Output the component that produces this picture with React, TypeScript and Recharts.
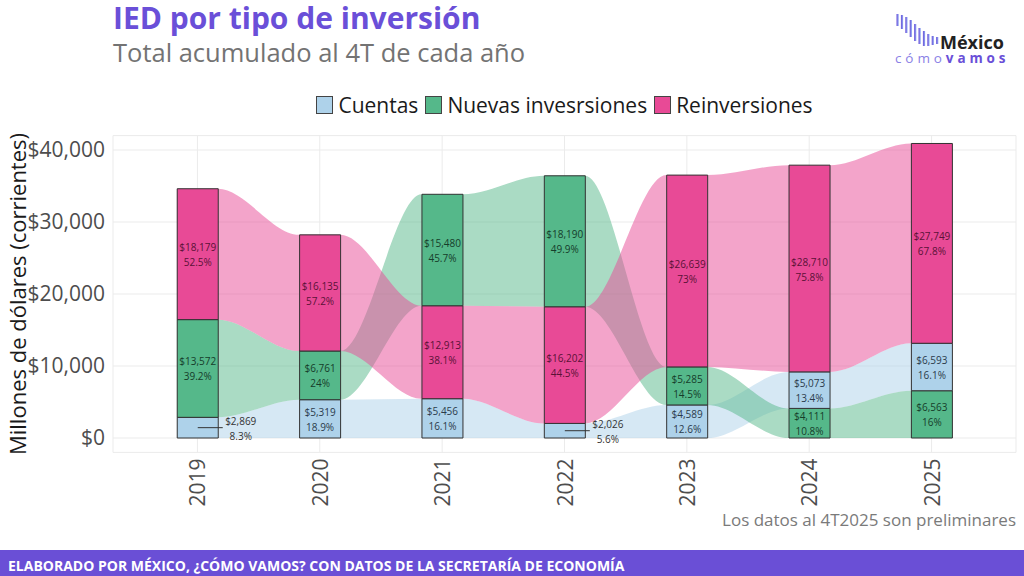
import React from 'react';
import { ComposedChart, Area, Bar, Cell, XAxis, YAxis, CartesianGrid, LabelList } from 'recharts';

// ---- data ----
const years = [2019, 2020, 2021, 2022, 2023, 2024, 2025];
const cuentas = [2869, 5319, 5456, 2026, 4589, 5073, 6593];
const nuevasInversiones = [13572, 6761, 15480, 18190, 5285, 4111, 6563];
const reinversiones = [18179, 16135, 12913, 16202, 26639, 28710, 27749];
const seriesNames = ['Cuentas', 'Nuevas invesrsiones', 'Reinversiones'];
const yTicks = [0, 10000, 20000, 30000, 40000];

// ---- styles / layout ----
const COLORS = ['#aed2ea', '#55b88a', '#e84a96'];
const LABEL_COLORS = ['#2b3b4a', '#163d2a', '#5a1236'];
const PURPLE = '#6a4fd8';
const HALF = 0.168; // half bar width in x units
const X_DOMAIN: [number, number] = [2018.31, 2025.69];
const FONT = '"Open Sans", "Noto Sans", sans-serif';

const seriesValues = [cuentas, nuevasInversiones, reinversiones];

type BarRow = {
  x: number;
  s0: number;
  s1: number;
  s2: number;
  order: number[];
  vals: number[];
  total: number;
  ranges: [number, number][];
};
type RibbonRow = { x: number; r0: [number, number]; r1: [number, number]; r2: [number, number] };

const barRows: BarRow[] = years.map((yr, i) => {
  const vals = seriesValues.map((s) => s[i]);
  const total = vals.reduce((a, b) => a + b, 0);
  const order = [0, 1, 2].sort((a, b) => vals[a] - vals[b]);
  const ranges: [number, number][] = [];
  let acc = 0;
  order.forEach((k) => {
    ranges[k] = [acc, acc + vals[k]];
    acc += vals[k];
  });
  return { x: yr, s0: vals[order[0]], s1: vals[order[1]], s2: vals[order[2]], order, vals, total, ranges };
});

const ribbonRows: RibbonRow[] = [];
barRows.forEach((b) => {
  [b.x - HALF, b.x, b.x + HALF].forEach((x) => {
    ribbonRows.push({ x, r0: b.ranges[0], r1: b.ranges[1], r2: b.ranges[2] });
  });
});

const fmtMoney = (v: number) => '$' + v.toLocaleString('en-US');
const fmtPct = (v: number, t: number) => String(Math.round((v / t) * 1000) / 10) + '%';

const makeLabel = (slot: number) => (props: any) => {
  const { x, y, width, height, index } = props;
  const row = barRows[index];
  if (!row) return null;
  const k = row.order[slot];
  const v = row.vals[k];
  const cx = Number(x) + Number(width) / 2;
  const h = Number(height);
  const cy = Number(y) + h / 2;
  const money = fmtMoney(v);
  const pct = fmtPct(v, row.total);
  if (Math.abs(h) < 24) {
    return (
      <g key={`lo-${slot}-${index}`}>
        <line x1={cx} x2={cx + 25} y1={cy} y2={cy} stroke="#333" strokeWidth={1} />
        <text x={cx + 43} y={cy - 7} textAnchor="middle" dominantBaseline="central" fontSize={10} fill="#333" fontFamily={FONT}>
          {money}
        </text>
        <text x={cx + 43} y={cy + 8} textAnchor="middle" dominantBaseline="central" fontSize={10} fill="#333" fontFamily={FONT}>
          {pct}
        </text>
      </g>
    );
  }
  return (
    <g key={`li-${slot}-${index}`}>
      <text x={cx} y={cy - 7} textAnchor="middle" dominantBaseline="central" fontSize={10} fill={LABEL_COLORS[k]} fontFamily={FONT}>
        {money}
      </text>
      <text x={cx} y={cy + 8} textAnchor="middle" dominantBaseline="central" fontSize={10} fill={LABEL_COLORS[k]} fontFamily={FONT}>
        {pct}
      </text>
    </g>
  );
};

const XTick = (props: any) => {
  const { x, y, payload } = props;
  return (
    <g transform={`translate(${x},${y - 2})`}>
      <text transform="rotate(-90)" textAnchor="end" dominantBaseline="central" fontSize={21} fill="#4d4d4d" fontFamily={FONT}>
        {payload.value}
      </text>
    </g>
  );
};

const logoTops = [14, 15, 17, 20, 24, 28, 31, 34, 36, 37];
const logoBottoms = [26, 29, 33, 37, 41, 44, 46, 46, 45, 44];

export default function App() {
  return (
    <div
      style={{
        position: 'absolute',
        left: 0,
        top: 0,
        width: 1024,
        height: 576,
        background: '#fff',
        overflow: 'hidden',
        fontFamily: FONT,
      }}
    >
      <div style={{ position: 'absolute', left: 0, top: 0 }}>
        <ComposedChart
          width={1024}
          height={576}
          data={barRows}
          margin={{ top: 135.6, right: 8, bottom: 63.6, left: 8 }}
        >
          <XAxis xAxisId="ribbon" dataKey="x" type="number" domain={X_DOMAIN} hide allowDataOverflow />
          <XAxis
            xAxisId="main"
            dataKey="x"
            type="number"
            domain={X_DOMAIN}
            ticks={years}
            interval={0}
            axisLine={false}
            tickLine={false}
            height={60}
            tick={<XTick />}
            allowDataOverflow
          />
          <YAxis
            type="number"
            domain={[-2000, 42000]}
            ticks={yTicks}
            interval={0}
            axisLine={false}
            tickLine={false}
            width={105}
            allowDataOverflow
            tickFormatter={(v: number) => fmtMoney(v)}
            tick={{ fontSize: 21, fill: '#4d4d4d', fontFamily: FONT }}
          />
          <CartesianGrid xAxisId="main" stroke="#ebebeb" strokeWidth={1} />
          {[0, 1, 2].map((k) => (
            <Area
              key={`ribbon-${k}`}
              xAxisId="ribbon"
              data={ribbonRows}
              dataKey={`r${k}`}
              type="monotoneX"
              stroke="none"
              fill={COLORS[k]}
              fillOpacity={0.5}
              isAnimationActive={false}
              dot={false}
              activeDot={false}
            />
          ))}
          {[0, 1, 2].map((slot) => (
            <Bar
              key={`slot-${slot}`}
              xAxisId="main"
              dataKey={`s${slot}`}
              stackId="stack"
              barSize={41}
              stroke="#333"
              strokeWidth={1}
              isAnimationActive={false}
            >
              {barRows.map((r, i) => (
                <Cell key={`c-${slot}-${i}`} fill={COLORS[r.order[slot]]} />
              ))}
              <LabelList dataKey={`s${slot}`} content={makeLabel(slot)} />
            </Bar>
          ))}
        </ComposedChart>
      </div>

      {/* legend */}
      <div
        style={{
          position: 'absolute',
          left: 113,
          width: 903,
          top: 94,
          height: 22,
          display: 'flex',
          justifyContent: 'center',
          alignItems: 'center',
          fontSize: 21,
          lineHeight: '22px',
          color: '#1a1a1a',
          whiteSpace: 'nowrap',
        }}
      >
        {seriesNames.map((n, k) => (
          <div key={n} style={{ display: 'flex', alignItems: 'center', marginLeft: k === 0 ? 0 : 7 }}>
            <div
              style={{
                width: 15,
                height: 16,
                background: COLORS[k],
                border: '1px solid #444',
                marginRight: 5,
              }}
            />
            <span>{n}</span>
          </div>
        ))}
      </div>

      <svg width={1024} height={576} style={{ position: 'absolute', left: 0, top: 0, pointerEvents: 'none' }}>
        <text x={113} y={28.6} fontSize={30} fontWeight={700} fill={PURPLE} fontFamily={FONT}>
          IED por tipo de inversión
        </text>
        <text x={113} y={62} fontSize={25.5} fill="#737373" fontFamily={FONT}>
          Total acumulado al 4T de cada año
        </text>

        {/* logo */}
        <defs>
          <linearGradient id="logoGrad" x1="0" x2="1" y1="0" y2="0">
            <stop offset="0" stopColor="#6a4fd8" />
            <stop offset="1" stopColor="#90a8f2" />
          </linearGradient>
        </defs>
        {logoTops.map((t, i) => (
          <rect key={i} x={896.5 + i * 4.4} y={t} width={2.2} height={logoBottoms[i] - t} fill="url(#logoGrad)" />
        ))}
        <text x={940} y={49} fontSize={18} fontWeight={700} fill="#222" fontFamily={FONT}>
          México
        </text>
        <text x={895} y={63} fontSize={13.5} letterSpacing={3.9} fontFamily={FONT}>
          <tspan fill="#8a7fe6">cómo</tspan>
          <tspan fill={PURPLE} fontWeight={700}>vamos</tspan>
        </text>

        {/* y label */}
        <text
          x={17}
          y={294}
          transform="rotate(-90, 17, 294)"
          textAnchor="middle"
          dominantBaseline="central"
          fontSize={22}
          fill="#1a1a1a"
          fontFamily={FONT}
        >
          Millones de dólares (corrientes)
        </text>

        <text x={1016} y={526} textAnchor="end" fontSize={17} fill="#7a7a7a" fontFamily={FONT}>
          Los datos al 4T2025 son preliminares
        </text>

        <rect x={0} y={550} width={1024} height={26} fill="#6a4fd6" />
        <text x={8} y={570.5} fontSize={14} fontWeight={700} fill="#fff" fontFamily={FONT}>
          ELABORADO POR MÉXICO, ¿CÓMO VAMOS? CON DATOS DE LA SECRETARÍA DE ECONOMÍA
        </text>
      </svg>
    </div>
  );
}
